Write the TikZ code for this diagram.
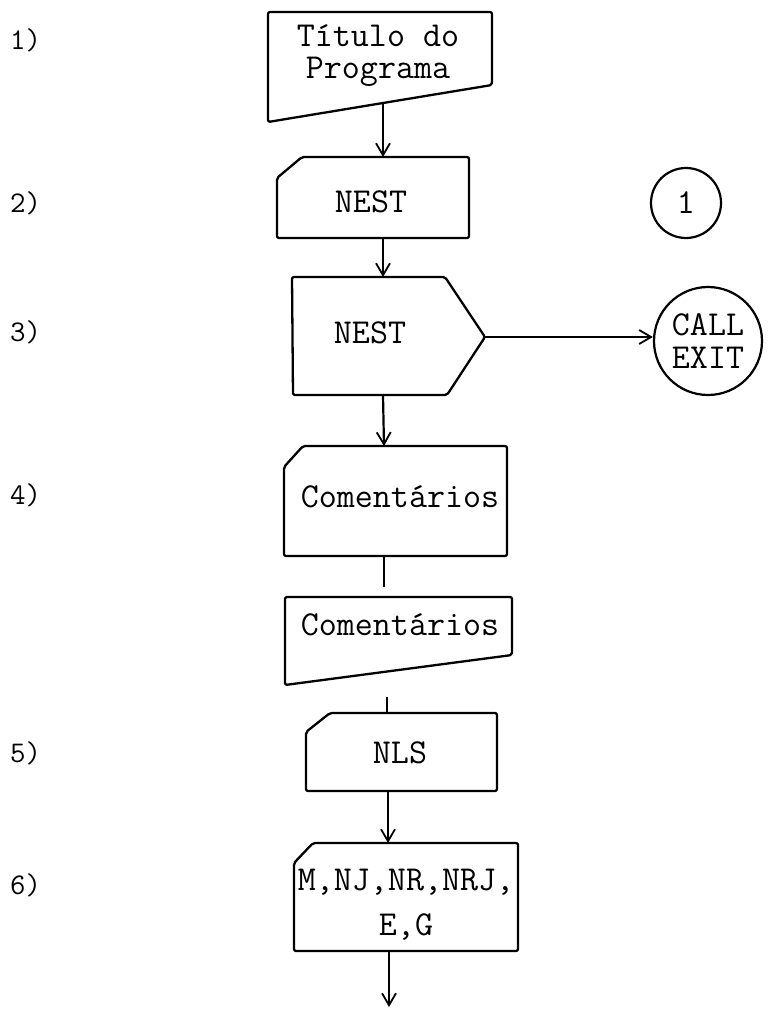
\documentclass[tikz,border=0pt]{standalone}
\usepackage{fontspec}
\usetikzlibrary{arrows.meta}
\begin{document}
\begin{tikzpicture}[x=1pt,y=-1pt,
  box/.style={line width=2.3pt, rounded corners=2pt, line join=round},
  conn/.style={line width=2.2pt},
  arr/.style={conn,-{Straight Barb[length=12pt,width=14pt,line width=1.8pt]}},
  txt/.style={font=\fontsize{35}{32}\selectfont\ttfamily, inner sep=0pt, align=center},
  num/.style={font=\fontsize{30}{36}\selectfont\ttfamily, inner sep=0pt, anchor=west},
  term/.style={draw, circle, line width=2.2pt, inner sep=0pt, align=center,
    font=\fontsize{35}{33}\selectfont\ttfamily}]
\useasboundingbox (0,0) rectangle (769,1011);

% step labels
\node[num] (l1) at (10,40) {1)};
\node[num] (l2) at (10,203) {2)};
\node[num] (l3) at (10,332) {3)};
\node[num] (l4) at (10,495) {4)};
\node[num] (l5) at (10,753) {5)};
\node[num] (l6) at (10,885) {6)};

% 1) title (manual input shape)
\draw[box] (268,122) -- (268,12) -- (492,12) -- (492,85) -- cycle;
\node[txt] (t1) at (378,56) {Título do\\Programa};
\coordinate (t1b) at (383,103);

% 2) NEST card
\draw[box] (277,178) -- (302,157) -- (469,157) -- (469,238) -- (277,238) -- cycle;
\node[txt] (n2) at (371,202) {NEST};
\coordinate (n2t) at (383,157);
\coordinate (n2b) at (383,238);

% connector circle 1
\node[term, minimum size=70pt] (c1) at (686,203) {1};

% 3) NEST display shape
\draw[box] (292,277) -- (445,277) -- (485,337) -- (447,395) -- (293,395) -- cycle;
\node[txt] (n3) at (370,333) {NEST};
\coordinate (n3t) at (383,277);
\coordinate (n3r) at (485,337);
\coordinate (n3b) at (383,395);

% CALL EXIT terminal
\node[term, minimum size=108pt] (ce) at (708,341) {CALL\\EXIT};

% 4) Comentarios card
\draw[box] (284,467) -- (303,446) -- (507,446) -- (507,556) -- (284,556) -- cycle;
\node[txt] (n4) at (400,497) {Comentários};
\coordinate (n4t) at (384,446);
\coordinate (n4b) at (384,556);
\coordinate (n4e) at (384,587);

% 4b) Comentarios manual input
\draw[box] (285,685) -- (285,597) -- (512,597) -- (512,655) -- cycle;
\node[txt] (n4x) at (400,625) {Comentários};
\coordinate (n4xs) at (387,697);

% 5) NLS card
\draw[box] (306,732) -- (330,713) -- (497,713) -- (497,791) -- (306,791) -- cycle;
\node[txt] (n5) at (400,753) {NLS};
\coordinate (n5t) at (387,713);
\coordinate (n5b) at (388,791);

% 6) variables card
\draw[box] (294,863) -- (313,843) -- (518,843) -- (518,951) -- (294,951) -- cycle;
\node[txt, font=\fontsize{35}{45}\selectfont\ttfamily] (n6) at (406,905) {M,NJ,NR,NRJ,\\E,G};
\coordinate (n6t) at (388,843);
\coordinate (n6b) at (389,951);
\coordinate (end) at (389,1007);

% connectors
\draw[arr] (t1b) -- (n2t);
\draw[arr] (n2b) -- (n3t);
\draw[arr] (n3r) -- (n3r -| ce.west);
\draw[arr] (n3b) -- (n4t);
\draw[conn] (n4b) -- (n4e);
\draw[conn] (n4xs) -- (n5t);
\draw[arr] (n5b) -- (n6t);
\draw[arr] (n6b) -- (end);
\end{tikzpicture}
\end{document}
